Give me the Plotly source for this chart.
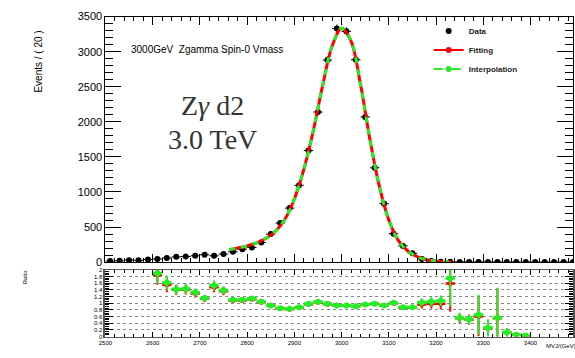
import numpy as np
import plotly.graph_objects as go

# ---------------- data ----------------
bin_centers = [2510, 2530, 2550, 2570, 2590, 2610, 2630, 2650, 2670, 2690,
               2710, 2730, 2750, 2770, 2790, 2810, 2830, 2850, 2870, 2890,
               2910, 2930, 2950, 2970, 2990, 3010, 3030, 3050, 3070, 3090,
               3110, 3130, 3150, 3170, 3190, 3210, 3230, 3250, 3270, 3290,
               3310, 3330, 3350, 3370, 3390, 3410, 3430, 3450, 3470, 3490]
data_counts = [15, 20, 28, 25, 37, 45, 60, 75, 80, 90,
               105, 90, 115, 148, 185, 210, 280, 400, 556, 770,
               1095, 1590, 2140, 2880, 3330, 3290, 2885, 2070, 1345, 833,
               405, 231, 125, 46, 15, 7, 5, 3, 2, 2,
               1, 1, 1, 1, 0.5, 0.5, 0.3, 0.3, 0.2, 0.2]

fit_x = [2762, 2780, 2800, 2820, 2840, 2860, 2880, 2900, 2920, 2940, 2960,
         2980, 3000, 3020, 3040, 3060, 3080, 3100, 3120, 3140, 3160, 3180,
         3200, 3220, 3235]
fit_y = [178, 200, 232, 275, 340, 440, 610, 900, 1320, 1870, 2520,
         3080, 3335, 3150, 2540, 1750, 1080, 600, 310, 160, 78, 34,
         14, 5, 2]

ratio_x = [2610, 2630, 2650, 2670, 2690, 2710, 2730, 2750, 2770, 2790,
           2810, 2830, 2850, 2870, 2890, 2910, 2930, 2950, 2970, 2990,
           3010, 3030, 3050, 3070, 3090, 3110, 3130, 3150, 3170, 3190,
           3210, 3230, 3250, 3270, 3290, 3310, 3330, 3350, 3370, 3390]
ratio_interp = [1.90, 1.61, 1.42, 1.43, 1.32, 1.15, 1.53, 1.39, 1.10, 1.10,
                1.14, 1.04, 0.93, 0.85, 0.83, 0.88, 0.98, 1.04, 0.98, 0.93,
                0.93, 0.91, 0.96, 0.98, 0.93, 1.01, 0.88, 0.88, 1.02, 1.04,
                1.07, 1.75, 0.56, 0.52, 0.65, 0.26, 0.56, 0.13, 0.05, 0.03]
ratio_fit = [1.85, 1.55, 1.40, 1.41, 1.29, 1.13, 1.48, 1.36, 1.08, 1.08,
             1.12, 1.03, 0.92, 0.84, 0.82, 0.87, 0.97, 1.03, 0.97, 0.93,
             0.93, 0.91, 0.96, 0.98, 0.93, 1.00, 0.87, 0.87, 0.96, 0.98,
             0.98, 1.59, 0.55, 0.50, 0.60, 0.25, 0.55, 0.12, 0.05, 0.03]
ratio_err = [0.30, 0.22, 0.15, 0.15, 0.12, 0.10, 0.15, 0.12, 0.05, 0.05,
             0.05, 0.04, 0.03, 0.03, 0.02, 0.02, 0.02, 0.02, 0.02, 0.02,
             0.02, 0.02, 0.02, 0.02, 0.03, 0.04, 0.05, 0.05, 0.12, 0.14,
             0.16, 0.85, 0.15, 0.15, 0.60, 0.25, 0.90, 0.12, 0.05, 0.03]

x_ticks = [2500, 2600, 2700, 2800, 2900, 3000, 3100, 3200, 3300, 3400]

RED = "#ff0000"
GREEN = "#22ee22"
FONT = "Liberation Sans, Arial, sans-serif"

fig = go.Figure()

# data points
fig.add_trace(go.Scatter(
    x=bin_centers, y=data_counts, mode="markers", name="Data",
    marker=dict(color="black", size=6),
    error_x=dict(type="constant", value=10, color="black", thickness=1, width=0),
    error_y=dict(type="data", array=list(np.sqrt(np.maximum(data_counts, 1))),
                 color="black", thickness=1, width=0),
    xaxis="x", yaxis="y", showlegend=True))

# fitting curve
fig.add_trace(go.Scatter(
    x=fit_x, y=fit_y, mode="lines", line=dict(color=RED, width=3, shape="spline"),
    name="Fitting", showlegend=False, xaxis="x", yaxis="y"))
# interpolation curve
fig.add_trace(go.Scatter(
    x=fit_x, y=fit_y, mode="lines",
    line=dict(color=GREEN, width=3, dash="6px,6px", shape="spline"),
    name="Interpolation", showlegend=False, xaxis="x", yaxis="y"))

# legend-only entries
fig.add_trace(go.Scatter(x=[None], y=[None], mode="lines+markers", name="Fitting",
                         line=dict(color=RED, width=2), marker=dict(color=RED, size=6),
                         xaxis="x", yaxis="y"))
fig.add_trace(go.Scatter(x=[None], y=[None], mode="lines+markers", name="Interpolation",
                         line=dict(color=GREEN, width=2, dash="dash"),
                         marker=dict(color=GREEN, size=6),
                         xaxis="x", yaxis="y"))

# ratio points
fig.add_trace(go.Scatter(
    x=ratio_x, y=ratio_fit, mode="markers", showlegend=False,
    marker=dict(color=RED, size=5),
    error_x=dict(type="constant", value=10, color=RED, thickness=2.5, width=0),
    error_y=dict(type="data", array=ratio_err, color=RED, thickness=2, width=0),
    xaxis="x2", yaxis="y2"))
fig.add_trace(go.Scatter(
    x=ratio_x, y=ratio_interp, mode="markers", showlegend=False,
    marker=dict(color=GREEN, size=6),
    error_x=dict(type="constant", value=10, color=GREEN, thickness=3, width=0),
    error_y=dict(type="data", array=ratio_err, color=GREEN, thickness=2, width=0),
    xaxis="x2", yaxis="y2"))

xr = [2500, 3490]
xdom = [100 / 575, 1.0]
main_dom = [(358 - 265) / 358, (358 - 11) / 358]
ratio_dom = [(358 - 342) / 358, (358 - 273) / 358]

fig.update_layout(
    width=575, height=358, margin=dict(l=0, r=0, t=0, b=0),
    paper_bgcolor="white", plot_bgcolor="white",
    font=dict(family=FONT, color="black"),
    xaxis=dict(domain=xdom, range=xr, anchor="y", showticklabels=False,
               tickmode="linear", tick0=2500, dtick=100, ticks="inside", ticklen=8,
               tickcolor="black", showline=True, linecolor="black", mirror="ticks",
               showgrid=False, zeroline=False,
               minor=dict(tickmode="linear", dtick=20, ticks="inside", ticklen=4,
                          tickcolor="black", showgrid=False)),
    yaxis=dict(domain=main_dom, range=[0, 3500], anchor="x",
               tickmode="linear", tick0=0, dtick=500, ticks="inside", ticklen=16,
               tickcolor="black", showline=True, linecolor="black", mirror="ticks",
               showgrid=False, zeroline=False, tickfont=dict(size=11),
               minor=dict(tickmode="linear", dtick=100, ticks="inside", ticklen=8,
                          tickcolor="black", showgrid=False)),
    xaxis2=dict(domain=xdom, range=xr, anchor="y2", tickmode="array",
                tickvals=x_ticks, ticktext=[str(v) for v in x_ticks],
                ticks="inside", ticklen=5, tickcolor="black", tickfont=dict(size=6),
                showline=True, linecolor="#555", linewidth=1, mirror="ticks",
                showgrid=False, zeroline=False,
                minor=dict(tickmode="linear", dtick=20, ticks="inside", ticklen=3,
                           tickcolor="black", showgrid=False)),
    yaxis2=dict(domain=ratio_dom, range=[0, 2], anchor="x2",
                tickmode="linear", tick0=0, dtick=0.2, ticks="inside", ticklen=8,
                tickcolor="black", tickfont=dict(size=6),
                showline=True, linecolor="#555", linewidth=2, mirror="ticks",
                showgrid=True, gridcolor="#888", griddash="dot", gridwidth=1,
                zeroline=False,
                minor=dict(tickmode="linear", dtick=0.05, ticks="inside", ticklen=4,
                           tickcolor="black", showgrid=False)),
    legend=dict(x=0.745, y=0.97, xanchor="left", yanchor="top",
                bgcolor="rgba(0,0,0,0)",
                font=dict(size=8, family=FONT, weight="bold", color="#222"),
                itemwidth=30, tracegroupgap=0),
)

anns = [
    dict(text="Events / ( 20 )", x=32 / 575, y=1 - 57 / 358, textangle=-90,
         xanchor="center", yanchor="middle", font=dict(size=10, family=FONT)),
    dict(text="3000GeV  Zgamma Spin-0 Vmass", x=124 / 575, y=1 - 45 / 358,
         xanchor="left", yanchor="middle", font=dict(size=10, family=FONT)),
    dict(text="Z<i>γ</i> d2", x=209 / 575, y=1 - 103 / 358, xanchor="center",
         yanchor="middle", font=dict(size=28, family="Liberation Serif, serif", color="#333")),
    dict(text="3.0 TeV", x=209 / 575, y=1 - 138 / 358, xanchor="center",
         yanchor="middle", font=dict(size=28, family="Liberation Serif, serif", color="#333")),
    dict(text="Ratio", x=18 / 575, y=1 - 280 / 358, textangle=-90, xanchor="center",
         yanchor="middle", font=dict(size=6, family=FONT)),
    dict(text="MVJ/(GeV)", x=546 / 575, y=1 - 352 / 358, xanchor="left",
         yanchor="middle", font=dict(size=6, family=FONT)),
]
for a in anns:
    fig.add_annotation(xref="paper", yref="paper", showarrow=False, **a)

fig.write_html("out.html")
